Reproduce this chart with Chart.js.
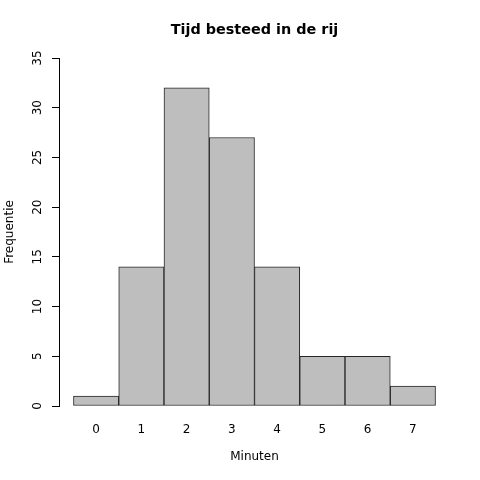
<!DOCTYPE html>
<html>
<head>
<meta charset="utf-8">
<script src="https://cdn.jsdelivr.net/npm/chart.js@4"></script>
<style>
html,body{margin:0;padding:0;background:#fff;}
#wrap{width:480px;height:480px;}
</style>
</head>
<body>
<div id="wrap"><canvas id="c" width="480" height="480"></canvas></div>
<script>
const minutes = [0, 1, 2, 3, 4, 5, 6, 7];
const frequency = [1, 14, 32, 27, 14, 5, 5, 2];
const yTicks = [0, 5, 10, 15, 20, 25, 30, 35];
const titleText = 'Tijd besteed in de rij';
const xTitle = 'Minuten';
const yTitle = 'Frequentie';

const FONT = '"DejaVu Sans", sans-serif';

const textPlugin = {
  id: 'rtext',
  afterDraw(chart) {
    const ctx = chart.ctx;
    const ys = chart.scales.y;
    const xs = chart.scales.x;
    ctx.save();
    ctx.fillStyle = '#000';
    ctx.font = '12px ' + FONT;
    ctx.textAlign = 'center';
    ctx.textBaseline = 'middle';
    yTicks.forEach(v => {
      const py = ys.getPixelForValue(v);
      ctx.save();
      ctx.translate(38, py);
      ctx.rotate(-Math.PI / 2);
      ctx.fillText(String(v), 0, 0);
      ctx.restore();
    });
    const cx = (xs.left + xs.right) / 2;
    ctx.font = 'bold 14.4px ' + FONT;
    ctx.fillText(titleText, cx, 30.5);
    ctx.font = '12px ' + FONT;
    ctx.fillText(xTitle, cx, 457);
    ctx.save();
    ctx.translate(10, (ys.top + ys.bottom) / 2);
    ctx.rotate(-Math.PI / 2);
    ctx.fillText(yTitle, 0, 0);
    ctx.restore();
    ctx.restore();
  }
};

new Chart(document.getElementById('c'), {
  type: 'bar',
  data: {
    datasets: [{
      data: minutes.map((m, i) => ({ x: m, y: frequency[i] })),
      backgroundColor: '#bebebe',
      borderColor: '#262626',
      borderWidth: 1,
      borderSkipped: false,
      barPercentage: 1,
      categoryPercentage: 1
    }]
  },
  options: {
    responsive: false,
    animation: false,
    devicePixelRatio: 1,
    layout: { padding: { top: 58, right: 30, left: 0, bottom: 0 } },
    plugins: { legend: { display: false }, title: { display: false }, tooltip: { enabled: false } },
    scales: {
      x: {
        type: 'linear',
        offset: false,
        min: -0.82,
        max: 7.82,
        afterFit(s) { s.height = 74; },
        afterBuildTicks(s) { s.ticks = minutes.map(v => ({ value: v })); },
        grid: { display: false, offset: false },
        border: { display: false },
        ticks: { padding: 9, color: '#000', font: { family: FONT, size: 12 }, includeBounds: false }
      },
      y: {
        min: 0,
        max: 35,
        afterFit(s) { s.width = 59; },
        afterBuildTicks(s) { s.ticks = yTicks.map(v => ({ value: v })); },
        grid: { drawOnChartArea: false, drawTicks: true, tickLength: 7, color: '#000', lineWidth: 1 },
        border: { display: true, color: '#000', width: 1 },
        ticks: { display: false }
      }
    }
  },
  plugins: [textPlugin]
});
</script>
</body>
</html>
